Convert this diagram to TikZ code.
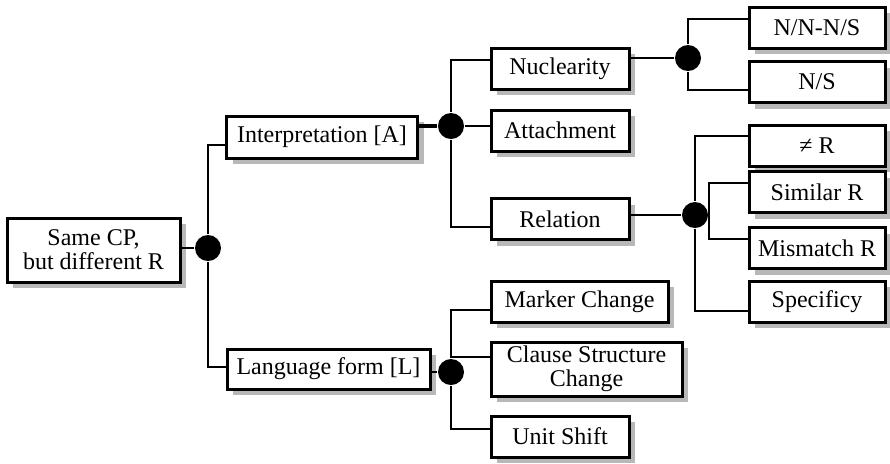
\documentclass[tikz,border=0pt]{standalone}
\usepackage{fontspec}
\setmainfont{Liberation Serif}
\usetikzlibrary{positioning,shadows,calc}

\begin{document}
\begin{tikzpicture}[%
            x=0.5pt,
            y=-0.5pt,
            line width=1pt,
            font=\fontsize{12}{12}\selectfont,
            box/.style={%
            	rectangle,
            	draw,
            	line width=1.5pt,
            	fill=white,
            	inner sep=0pt,
            	align=center,
            	minimum width=68pt,
            	minimum height=20.5pt,
            	drop shadow={shadow xshift=3pt,shadow yshift=-3pt,fill=black!28,opacity=1}
            },
            junction/.style={%
            	circle,
            	fill=black,
            	inner sep=0pt,
            	minimum size=13pt
            }
            ]
            \useasboundingbox (0,0) rectangle (890,463);

            \node[box,minimum width=86.5pt,minimum height=32pt] (1) at (93.5,250) {Same CP,\\but different R};
            \node[junction] (d1) at (208,248) {};
            \node[box,minimum width=95.5pt,minimum height=21pt] (2) at (322,137)     {Interpretation [A]};
            \node[box,minimum width=101.5pt,minimum height=20pt] (12) at (328.5,369) {Language form [L]};

            \node[junction] (d2) at (451,126) {};
            \node[box,minimum width=69pt] (3) at (560,68.5)  {Nuclearity};
            \node[box,minimum width=69pt] (4) at (560,130.5) {Attachment};
            \node[box,minimum width=69pt] (5) at (560,219)   {Relation};

            \node[junction] (d3) at (688,58) {};
            \node[box] (6) at (817,27.5) {N/N-N/S};
            \node[box] (7) at (817,82)   {N/S};

            \node[junction] (d4) at (695,215) {};
            \node[box] (8) at (817,145.5)  {≠ R};
            \node[box] (9) at (817,192)    {Similar R};
            \node[box] (10) at (817,248)   {Mismatch R};
            \node[box] (11) at (817,301.5) {Specificy};

            \node[junction] (d5) at (451,372) {};
            \node[box,minimum width=88.5pt] (13) at (579.5,301.5) {Marker Change};
            \node[box,minimum width=95.5pt,minimum height=27pt] (14) at (586.5,369) {Clause Structure\\Change};
            \node[box,minimum width=69pt] (15) at (560,436.5) {Unit Shift};

            % root
            \draw (1.east |- d1) -- (d1);
            \draw (d1) |- ($(2.west)+(0,8)$);
            \draw (d1) |- ($(12.west)+(0,-2)$);
            % interpretation
            \draw[line width=1.75pt] (2.east |- d2) -- (d2);
            \draw (d2) |- ($(3.west)+(0,-8.5)$);
            \draw (d2) -- (4.west |- d2);
            \draw (d2) |- ($(5.west)+(0,8)$);
            % nuclearity
            \draw (3.east |- d3) -- (d3);
            \draw (d3) |- ($(6.west)+(0,-8.5)$);
            \draw (d3) |- ($(7.west)+(0,8)$);
            % relation
            \draw (5.east |- d4) -- (d4);
            \draw (d4) |- ($(8.west)+(0,-9.5)$);
            \draw (d4.east) |- ($(9.west)+(0,-9)$);
            \draw (d4.east) |- ($(10.west)+(0,-9)$);
            \draw (d4) |- ($(11.west)+(0,9.5)$);
            % language form
            \draw (12.east |- d5) -- (d5);
            \draw (d5) |- ($(13.west)+(0,8.5)$);
            \draw (d5) |- ($(14.west)+(0,-12)$);
            \draw (d5) |- ($(15.west)+(0,-7.5)$);
\end{tikzpicture}
\end{document}
